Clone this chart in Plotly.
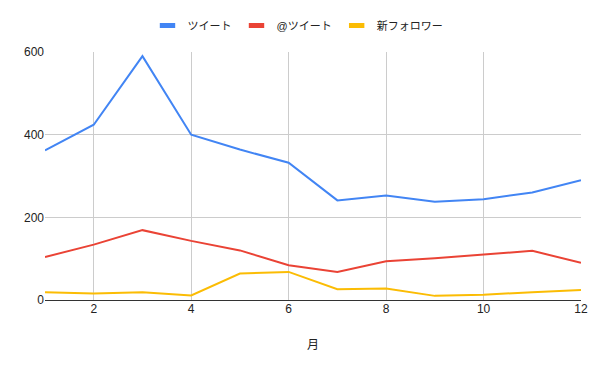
import plotly.graph_objects as go

months = [1, 2, 3, 4, 5, 6, 7, 8, 9, 10, 11, 12]
tweets = [362, 424, 590, 400, 364, 332, 241, 253, 238, 244, 260, 290]
at_tweets = [104, 134, 169, 143, 120, 84, 68, 94, 101, 110, 119, 90]
new_followers = [19, 16, 19, 11, 64, 68, 26, 28, 10, 13, 19, 24]
series_names = ["ツイート", "@ツイート", "新フォロワー"]
colors = ["#4285F4", "#EA4335", "#FBBC04"]

font_family = "Arial, Liberation Sans, Noto Sans CJK JP, sans-serif"

W, H = 592, 363  # page body has an 8px margin

fig = go.Figure()
for name, vals, c in zip(series_names, [tweets, at_tweets, new_followers], colors):
    fig.add_trace(go.Scatter(x=months, y=vals, mode="lines", name=name,
                             line=dict(color=c, width=2), showlegend=False))
# legend-only entries with short thick bar symbols
for name, c in zip(series_names, colors):
    fig.add_trace(go.Scatter(x=[None], y=[None], mode="markers", name=name,
                             marker=dict(symbol="line-ew", size=11,
                                         line=dict(color=c, width=5)),
                             showlegend=True))

fig.update_layout(
    width=W, height=H,
    margin=dict(l=37, r=19, t=44, b=71, autoexpand=False),
    paper_bgcolor="white", plot_bgcolor="white",
    font=dict(family=font_family, size=12, color="#222222"),
    legend=dict(orientation="h", x=(290 - 37) / (W - 56), xanchor="center",
                yref="container", y=1 - 3 / H, yanchor="top",
                font=dict(size=11, color="#222222"), itemwidth=30,
                tracegroupgap=0),
    xaxis=dict(range=[1, 12], tickvals=[2, 4, 6, 8, 10, 12], showgrid=True,
               gridcolor="#cccccc", gridwidth=1, zeroline=False, showline=False,
               ticks="", title=dict(text="月", standoff=25, font=dict(size=12))),
    yaxis=dict(range=[0, 600], tickvals=[0, 200, 400, 600], showgrid=True,
               gridcolor="#cccccc", gridwidth=1, zeroline=True, zerolinecolor="#333333",
               zerolinewidth=1, showline=False, ticks=""),
)

fig.write_html("out.html")
